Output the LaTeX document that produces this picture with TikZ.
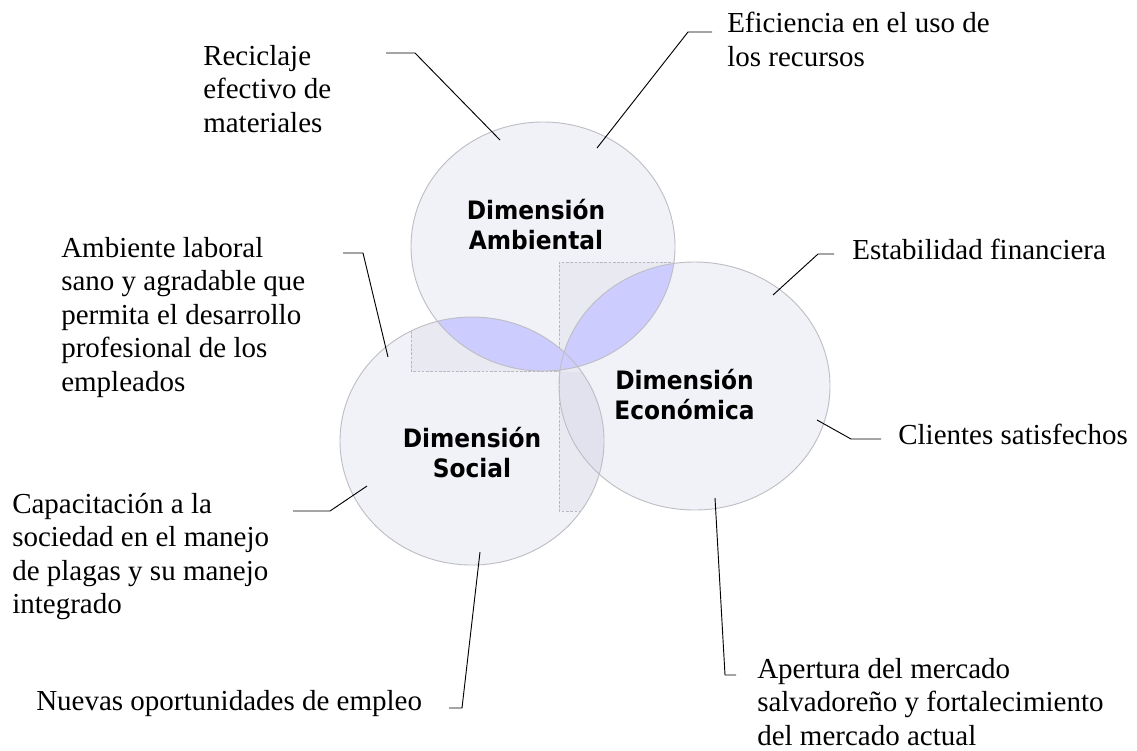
\documentclass[tikz,border=0pt]{standalone}
\usepackage{fontspec}
\setmainfont{Liberation Serif}
\newfontfamily\dimfont{DejaVu Sans}[FakeStretch=0.92]
\begin{document}
\begin{tikzpicture}[x=0.75pt,y=-0.75pt,
  lbl/.style={font=\fontsize{21.75}{25.1}\selectfont, align=left, inner sep=0pt},
  dimlbl/.style={font=\dimfont\bfseries\fontsize{19}{22.5}\selectfont, align=center, inner sep=0pt},
  conn/.style={draw=black, line width=0.7pt},
  circfill/.style={fill={rgb,255:red,222;green,222;blue,238}, fill opacity=0.42},
  circline/.style={draw={rgb,255:red,190;green,190;blue,196}, line width=0.7pt},
  lensfill/.style={fill={rgb,255:red,204;green,204;blue,255}},
  boxfill/.style={fill={rgb,255:red,190;green,190;blue,210}, fill opacity=0.15},
  boxline/.style={draw={rgb,255:red,185;green,185;blue,192}, dash pattern=on 2pt off 1.2pt, line width=0.5pt}]
\useasboundingbox (0,0) rectangle (1137,750);
\def\amb{(543,246.5) ellipse [x radius=99pt, y radius=93.375pt]}
\def\soc{(472,441) ellipse [x radius=99pt, y radius=93pt]}
\def\eco{(694.5,386) ellipse [x radius=101.625pt, y radius=93pt]}
% circle fills
\fill[circfill] \amb;
\fill[circfill] \soc;
\fill[circfill] \eco;
% bounding-box shades
\begin{scope}
  \clip \soc;
  \clip (411,100) rectangle (560,371.5);
  \fill[boxfill] (411,122) rectangle (560,371.5);
\end{scope}
\begin{scope}
  \clip \soc;
  \draw[boxline] (411,122) -- (411,371.5) -- (560,371.5);
\end{scope}
\begin{scope}
  \clip \amb;
  \fill[boxfill] (559,262) rectangle (830,511);
  \draw[boxline] (559,511) -- (559,262) -- (830,262);
\end{scope}
\begin{scope}
  \clip \soc;
  \fill[boxfill] (559,371.5) rectangle (830,511);
  \draw[boxline] (559,262) -- (559,511) -- (830,511);
\end{scope}
% lenses
\begin{scope}
  \clip \amb;
  \fill[lensfill] \eco;
\end{scope}
\begin{scope}
  \clip \amb;
  \fill[lensfill] \soc;
\end{scope}
% outlines
\draw[circline] \amb;
\draw[circline] \soc;
\draw[circline] \eco;
% dimension labels
\node[dimlbl] (dAmb) at (536,224.5) {Dimensión\\Ambiental};
\node[dimlbl] (dEco) at (684.5,394.5) {Dimensión\\Económica};
\node[dimlbl] (dSoc) at (472,452.5) {Dimensión\\Social};
% text labels
\node[lbl, anchor=north west] (tRec) at (203,45) {Reciclaje\\efectivo de\\materiales};
\node[lbl, anchor=north west] (tEfi) at (727,12) {Eficiencia en el uso de\\los recursos};
\node[lbl, anchor=north west] (tAmbL) at (61,237) {Ambiente laboral\\sano y agradable que\\permita el desarrollo\\profesional de los\\empleados};
\node[lbl, anchor=base west] (tEst) at (852,259) {Estabilidad financiera};
\node[lbl, anchor=base west] (tCli) at (898,444) {Clientes satisfechos};
\node[lbl, anchor=north west] (tCap) at (12,493) {Capacitación a la\\sociedad en el manejo\\de plagas y su manejo\\integrado};
\node[lbl, anchor=base west] (tNue) at (36,710) {Nuevas oportunidades de empleo};
\node[lbl, anchor=north west] (tApe) at (757,658) {Apertura del mercado\\salvadoreño y fortalecimiento\\del mercado actual};
% connector coordinates
\coordinate (r1) at (386,53);  \coordinate (r2) at (415,53);  \coordinate (r3) at (500,140);
\coordinate (e1) at (712,32);  \coordinate (e2) at (688,32);  \coordinate (e3) at (597,148);
\coordinate (a1) at (343,253); \coordinate (a2) at (363,253); \coordinate (a3) at (388,357);
\coordinate (s1) at (834,254); \coordinate (s2) at (818,254); \coordinate (s3) at (773,295);
\coordinate (c1) at (817,420); \coordinate (c2) at (851,439); \coordinate (c3) at (881,439);
\coordinate (p1) at (293,511); \coordinate (p2) at (330,511); \coordinate (p3) at (367,486);
\coordinate (n1) at (449,708); \coordinate (n2) at (462,708); \coordinate (n3) at (480,552);
\coordinate (o1) at (715,498); \coordinate (o2) at (725,675); \coordinate (o3) at (736,675);
\draw[conn] (r1) -- (r2) -- (r3);
\draw[conn] (e1) -- (e2) -- (e3);
\draw[conn] (a1) -- (a2) -- (a3);
\draw[conn] (s1) -- (s2) -- (s3);
\draw[conn] (c1) -- (c2) -- (c3);
\draw[conn] (p1) -- (p2) -- (p3);
\draw[conn] (n1) -- (n2) -- (n3);
\draw[conn] (o1) -- (o2) -- (o3);
\end{tikzpicture}
\end{document}
